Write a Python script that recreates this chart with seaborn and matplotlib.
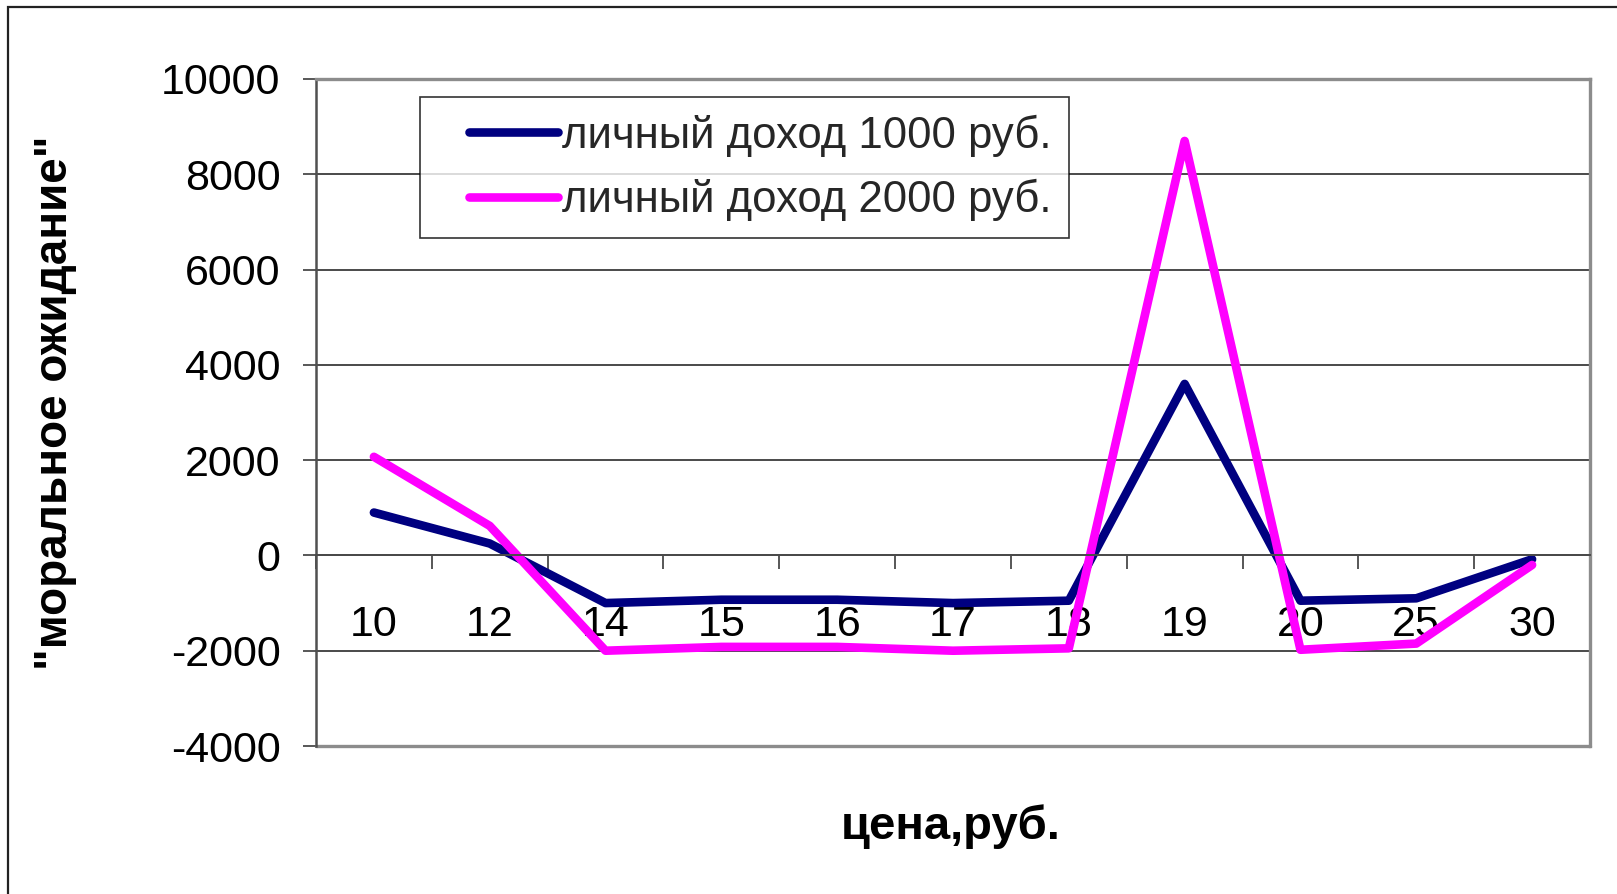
import matplotlib
matplotlib.use("Agg")
import matplotlib.pyplot as plt
import seaborn as sns
import pandas as pd
from matplotlib.patches import Rectangle
from matplotlib.legend_handler import HandlerLine2D
from matplotlib.lines import Line2D

# Price categories (руб.) and "moral expectation" for two personal income levels
prices = ["10", "12", "14", "15", "16", "17", "18", "19", "20", "25", "30"]
income_1000 = [900, 250, -1000, -930, -930, -1000, -950, 3600, -950, -900, -80]
income_2000 = [2070, 620, -2000, -1920, -1920, -2000, -1950, 8700, -1980, -1850, -200]
series_names = ["личный доход 1000 руб.", "личный доход 2000 руб."]
y_ticks = [-4000, -2000, 0, 2000, 4000, 6000, 8000, 10000]

df = pd.DataFrame({
    "цена": prices * 2,
    "значение": income_1000 + income_2000,
    "серия": [series_names[0]] * len(prices) + [series_names[1]] * len(prices),
})

sns.set_theme(style="white")
plt.rcParams["font.family"] = ["Liberation Sans", "DejaVu Sans"]

W, H = 1617, 894
fig = plt.figure(figsize=(W / 100, H / 100), dpi=100)
left, right, top, bottom = 316, 1590, 79, 746
ax = fig.add_axes([left / W, 1 - bottom / H, (right - left) / W, (bottom - top) / H])

palette = {series_names[0]: "#000080", series_names[1]: "#FF00FF"}
sns.lineplot(data=df, x="цена", y="значение", hue="серия", palette=palette,
             linewidth=6.2, sort=False, ax=ax, legend=True,
             solid_capstyle="round", solid_joinstyle="round")

ax.set_xlim(-0.5, len(prices) - 0.5)
ax.set_ylim(-4000, 10000)
ax.set_yticks(y_ticks)
ax.set_yticklabels([str(v) for v in y_ticks])

# horizontal gridlines
for v in y_ticks:
    ax.axhline(v, color="#4a4a4a", linewidth=1.4, zorder=0.5, clip_on=False)

# plot area border
ax.spines["left"].set_color("#505050")
ax.spines["left"].set_linewidth(1.8)
for s in ("top", "right"):
    ax.spines[s].set_color("#8c8c8c")
    ax.spines[s].set_linewidth(2.4)
ax.spines["bottom"].set_position(("data", 0))
ax.spines["bottom"].set_color("#4a4a4a")
ax.spines["bottom"].set_linewidth(1.4)
ax.axhline(-4000, color="#8c8c8c", linewidth=2.4, clip_on=False, zorder=0.6)

# category axis: labels at categories, tick marks between categories
ax.set_xticks(range(len(prices)))
ax.set_xticklabels(prices)
ax.set_xticks([i - 0.5 for i in range(len(prices) + 1)], minor=True)
ax.tick_params(axis="x", which="major", length=0, pad=36, labelsize=31, colors="black")
ax.tick_params(axis="x", which="minor", bottom=True, direction="out", length=10,
               width=1.3, color="#4a4a4a")
ax.tick_params(axis="y", which="major", left=True, direction="out", length=9.5,
               width=1.3, color="#4a4a4a", pad=16, labelsize=31, labelcolor="black")

ax.set_xlabel("цена,руб.", fontsize=34, fontweight="bold", color="black")
ax.xaxis.set_label_coords(0.498, -0.088)
ax.set_ylabel("\"моральное ожидание\"", fontsize=33, fontweight="bold", color="black")
ax.yaxis.set_label_coords(-0.205, 0.515)
ax.yaxis.label.set_verticalalignment("center")

leg = ax.legend(loc="upper left", bbox_to_anchor=(420 / W, 1 - 97 / H),
                bbox_transform=fig.transFigure, fontsize=31.5, frameon=True,
                fancybox=False, edgecolor="black", handlelength=2.75,
                handletextpad=0.1, borderpad=0.4, labelspacing=0.5,
                borderaxespad=0,
                handler_map={Line2D: HandlerLine2D(xpad=0.73)})
leg.get_frame().set_linewidth(1.2)
for line in leg.get_lines():
    line.set_linewidth(6.2)
    line.set_solid_capstyle("round")

# outer chart frame
fig.patches.append(Rectangle((8 / W, -0.05), 1.2, 1 - 7 / H + 0.05,
                             transform=fig.transFigure, fill=False,
                             edgecolor="#222222", linewidth=1.6))

fig.savefig("out.png", dpi=100, facecolor="white")
